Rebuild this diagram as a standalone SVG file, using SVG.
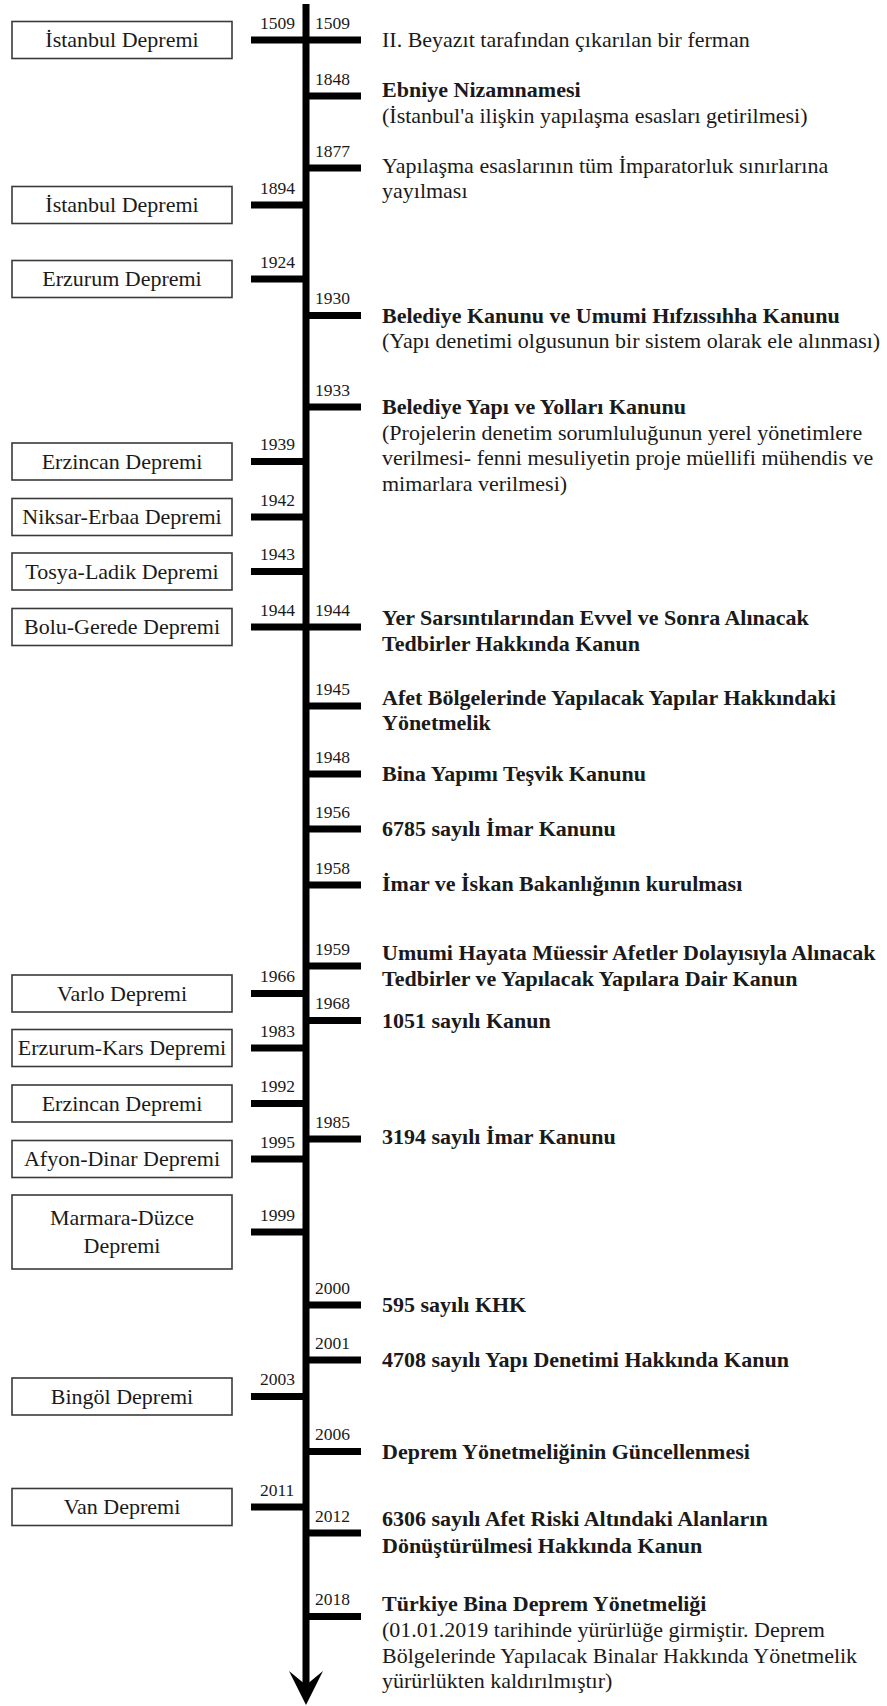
<svg xmlns="http://www.w3.org/2000/svg" width="887" height="1706" viewBox="0 0 887 1706">
  <defs>
    <style>
      .box{fill:#fff;stroke:#3a3a3a;stroke-width:1.6}
      .lbl{font-family:"Liberation Serif","Times New Roman",serif;font-size:22px;fill:#1a1a1a}
      .c{text-anchor:middle}
      .b{font-weight:bold}
      .yr{font-family:"Liberation Serif","Times New Roman",serif;font-size:17.5px;fill:#1a1a1a}
      .tick{stroke:#000;stroke-width:7}
      .axis{stroke:#000;stroke-width:7}
    </style>
  </defs>
  <rect width="887" height="1706" fill="#fff"/>

  <!-- time axis with arrowhead -->
  <g id="axis">
    <line class="axis" x1="306" y1="4" x2="306" y2="1688"/>
    <polygon points="306,1705 289,1671 306,1685 323,1671" fill="#000"/>
  </g>

  <!-- ticks joining the events to the axis -->
  <g id="connectors">
    <!-- earthquakes (left) -->
    <line class="tick" x1="251" y1="40" x2="306" y2="40"/>
    <line class="tick" x1="251" y1="205" x2="306" y2="205"/>
    <line class="tick" x1="251" y1="279" x2="306" y2="279"/>
    <line class="tick" x1="251" y1="461.5" x2="306" y2="461.5"/>
    <line class="tick" x1="251" y1="517" x2="306" y2="517"/>
    <line class="tick" x1="251" y1="571.5" x2="306" y2="571.5"/>
    <line class="tick" x1="251" y1="627" x2="306" y2="627"/>
    <line class="tick" x1="251" y1="993.5" x2="306" y2="993.5"/>
    <line class="tick" x1="251" y1="1048" x2="306" y2="1048"/>
    <line class="tick" x1="251" y1="1103.5" x2="306" y2="1103.5"/>
    <line class="tick" x1="251" y1="1159" x2="306" y2="1159"/>
    <line class="tick" x1="251" y1="1232" x2="306" y2="1232"/>
    <line class="tick" x1="251" y1="1396.5" x2="306" y2="1396.5"/>
    <line class="tick" x1="251" y1="1507" x2="306" y2="1507"/>
    <!-- regulations (right) -->
    <line class="tick" x1="306" y1="40" x2="361" y2="40"/>
    <line class="tick" x1="306" y1="96" x2="361" y2="96"/>
    <line class="tick" x1="306" y1="168" x2="361" y2="168"/>
    <line class="tick" x1="306" y1="315.5" x2="361" y2="315.5"/>
    <line class="tick" x1="306" y1="407" x2="361" y2="407"/>
    <line class="tick" x1="306" y1="627" x2="361" y2="627"/>
    <line class="tick" x1="306" y1="706" x2="361" y2="706"/>
    <line class="tick" x1="306" y1="774" x2="361" y2="774"/>
    <line class="tick" x1="306" y1="829" x2="361" y2="829"/>
    <line class="tick" x1="306" y1="885" x2="361" y2="885"/>
    <line class="tick" x1="306" y1="966" x2="361" y2="966"/>
    <line class="tick" x1="306" y1="1020.5" x2="361" y2="1020.5"/>
    <line class="tick" x1="306" y1="1139" x2="361" y2="1139"/>
    <line class="tick" x1="306" y1="1305" x2="361" y2="1305"/>
    <line class="tick" x1="306" y1="1360" x2="361" y2="1360"/>
    <line class="tick" x1="306" y1="1451.5" x2="361" y2="1451.5"/>
    <line class="tick" x1="306" y1="1533" x2="361" y2="1533"/>
    <line class="tick" x1="306" y1="1616.5" x2="361" y2="1616.5"/>
  </g>

  <!-- earthquakes -->
  <g id="eq-1509"><rect class="box" x="12" y="21.5" width="220" height="37"/><text class="lbl c" x="122" y="47">İstanbul Depremi</text><text class="yr" x="260" y="28.5">1509</text></g>
  <g id="eq-1894"><rect class="box" x="12" y="186.5" width="220" height="37"/><text class="lbl c" x="122" y="212">İstanbul Depremi</text><text class="yr" x="260" y="193.5">1894</text></g>
  <g id="eq-1924"><rect class="box" x="12" y="260.5" width="220" height="37"/><text class="lbl c" x="122" y="286">Erzurum Depremi</text><text class="yr" x="260" y="267.5">1924</text></g>
  <g id="eq-1939"><rect class="box" x="12" y="443" width="220" height="37"/><text class="lbl c" x="122" y="468.5">Erzincan Depremi</text><text class="yr" x="260" y="450">1939</text></g>
  <g id="eq-1942"><rect class="box" x="12" y="498.5" width="220" height="37"/><text class="lbl c" x="122" y="524">Niksar-Erbaa Depremi</text><text class="yr" x="260" y="505.5">1942</text></g>
  <g id="eq-1943"><rect class="box" x="12" y="553" width="220" height="37"/><text class="lbl c" x="122" y="578.5">Tosya-Ladik Depremi</text><text class="yr" x="260" y="560">1943</text></g>
  <g id="eq-1944"><rect class="box" x="12" y="608.5" width="220" height="37"/><text class="lbl c" x="122" y="634">Bolu-Gerede Depremi</text><text class="yr" x="260" y="615.5">1944</text></g>
  <g id="eq-1966"><rect class="box" x="12" y="975" width="220" height="37"/><text class="lbl c" x="122" y="1000.5">Varlo Depremi</text><text class="yr" x="260" y="982">1966</text></g>
  <g id="eq-1983"><rect class="box" x="12" y="1029.5" width="220" height="37"/><text class="lbl c" x="122" y="1055">Erzurum-Kars Depremi</text><text class="yr" x="260" y="1036.5">1983</text></g>
  <g id="eq-1992"><rect class="box" x="12" y="1085" width="220" height="37"/><text class="lbl c" x="122" y="1110.5">Erzincan Depremi</text><text class="yr" x="260" y="1092">1992</text></g>
  <g id="eq-1995"><rect class="box" x="12" y="1140.5" width="220" height="37"/><text class="lbl c" x="122" y="1166">Afyon-Dinar Depremi</text><text class="yr" x="260" y="1147.5">1995</text></g>
  <g id="eq-1999"><rect class="box" x="12" y="1195" width="220" height="74"/><text class="lbl c" x="122" y="1225">Marmara-Düzce</text><text class="lbl c" x="122" y="1252.5">Depremi</text><text class="yr" x="260" y="1220.5">1999</text></g>
  <g id="eq-2003"><rect class="box" x="12" y="1378" width="220" height="37"/><text class="lbl c" x="122" y="1403.5">Bingöl Depremi</text><text class="yr" x="260" y="1385">2003</text></g>
  <g id="eq-2011"><rect class="box" x="12" y="1488.5" width="220" height="37"/><text class="lbl c" x="122" y="1514">Van Depremi</text><text class="yr" x="260" y="1495.5">2011</text></g>

  <!-- regulations -->
  <g id="reg-1509"><text class="yr" x="315" y="28.5">1509</text><text class="lbl" x="382" y="47">II. Beyazıt tarafından çıkarılan bir ferman</text></g>
  <g id="reg-1848"><text class="yr" x="315" y="84.5">1848</text><text class="lbl b" x="382" y="97">Ebniye Nizamnamesi</text><text class="lbl" x="382" y="122.5">(İstanbul'a ilişkin yapılaşma esasları getirilmesi)</text></g>
  <g id="reg-1877"><text class="yr" x="315" y="156.5">1877</text><text class="lbl" x="382" y="172.5">Yapılaşma esaslarının tüm İmparatorluk sınırlarına</text><text class="lbl" x="382" y="198">yayılması</text></g>
  <g id="reg-1930"><text class="yr" x="315" y="304">1930</text><text class="lbl b" x="382" y="322.5">Belediye Kanunu ve Umumi Hıfzıssıhha Kanunu</text><text class="lbl" x="382" y="348">(Yapı denetimi olgusunun bir sistem olarak ele alınması)</text></g>
  <g id="reg-1933"><text class="yr" x="315" y="395.5">1933</text><text class="lbl b" x="382" y="414">Belediye Yapı ve Yolları Kanunu</text><text class="lbl" x="382" y="439.5">(Projelerin denetim sorumluluğunun yerel yönetimlere</text><text class="lbl" x="382" y="465">verilmesi- fenni mesuliyetin proje müellifi mühendis ve</text><text class="lbl" x="382" y="490.5">mimarlara verilmesi)</text></g>
  <g id="reg-1944"><text class="yr" x="315" y="615.5">1944</text><text class="lbl b" x="382" y="625">Yer Sarsıntılarından Evvel ve Sonra Alınacak</text><text class="lbl b" x="382" y="651">Tedbirler Hakkında Kanun</text></g>
  <g id="reg-1945"><text class="yr" x="315" y="694.5">1945</text><text class="lbl b" x="382" y="704.5">Afet Bölgelerinde Yapılacak Yapılar Hakkındaki</text><text class="lbl b" x="382" y="730">Yönetmelik</text></g>
  <g id="reg-1948"><text class="yr" x="315" y="762.5">1948</text><text class="lbl b" x="382" y="781">Bina Yapımı Teşvik Kanunu</text></g>
  <g id="reg-1956"><text class="yr" x="315" y="817.5">1956</text><text class="lbl b" x="382" y="836">6785 sayılı İmar Kanunu</text></g>
  <g id="reg-1958"><text class="yr" x="315" y="873.5">1958</text><text class="lbl b" x="382" y="891">İmar ve İskan Bakanlığının kurulması</text></g>
  <g id="reg-1959"><text class="yr" x="315" y="954.5">1959</text><text class="lbl b" x="382" y="960">Umumi Hayata Müessir Afetler Dolayısıyla Alınacak</text><text class="lbl b" x="382" y="986">Tedbirler ve Yapılacak Yapılara Dair Kanun</text></g>
  <g id="reg-1968"><text class="yr" x="315" y="1009">1968</text><text class="lbl b" x="382" y="1028">1051 sayılı Kanun</text></g>
  <g id="reg-1985"><text class="yr" x="315" y="1127.5">1985</text><text class="lbl b" x="382" y="1144">3194 sayılı İmar Kanunu</text></g>
  <g id="reg-2000"><text class="yr" x="315" y="1293.5">2000</text><text class="lbl b" x="382" y="1312">595 sayılı KHK</text></g>
  <g id="reg-2001"><text class="yr" x="315" y="1348.5">2001</text><text class="lbl b" x="382" y="1367">4708 sayılı Yapı Denetimi Hakkında Kanun</text></g>
  <g id="reg-2006"><text class="yr" x="315" y="1440">2006</text><text class="lbl b" x="382" y="1459">Deprem Yönetmeliğinin Güncellenmesi</text></g>
  <g id="reg-2012"><text class="yr" x="315" y="1521.5">2012</text><text class="lbl b" x="382" y="1526">6306 sayılı Afet Riski Altındaki Alanların</text><text class="lbl b" x="382" y="1553">Dönüştürülmesi Hakkında Kanun</text></g>
  <g id="reg-2018"><text class="yr" x="315" y="1605">2018</text><text class="lbl b" x="382" y="1611">Türkiye Bina Deprem Yönetmeliği</text><text class="lbl" x="382" y="1637">(01.01.2019 tarihinde yürürlüğe girmiştir. Deprem</text><text class="lbl" x="382" y="1663">Bölgelerinde Yapılacak Binalar Hakkında Yönetmelik</text><text class="lbl" x="382" y="1688">yürürlükten kaldırılmıştır)</text></g>
</svg>
